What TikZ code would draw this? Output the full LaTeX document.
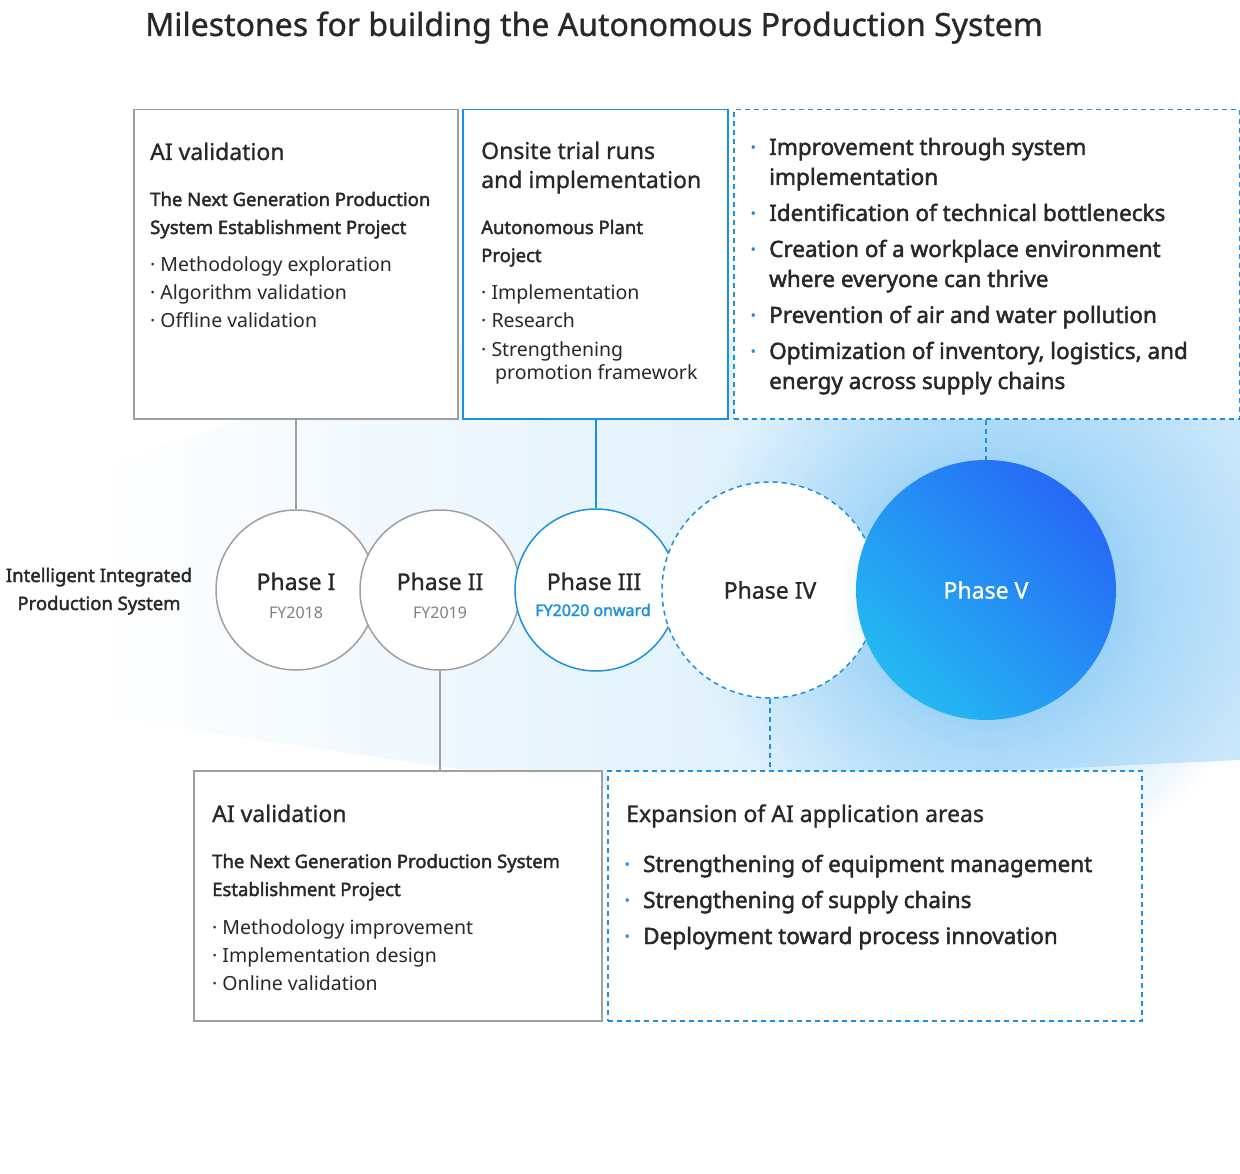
\documentclass[tikz,border=0pt]{standalone}
\usepackage{fontspec}
\setmainfont{Noto Sans}[AutoFakeBold=2]
\newfontfamily\medf{Noto Sans}[FakeBold=1]
\usetikzlibrary{fadings}
\tikzfading[name=glowfade, inner color=transparent!0, outer color=transparent!100]
\definecolor{mblue}{RGB}{30,144,225}
\definecolor{gline}{RGB}{160,160,160}
\definecolor{gtext}{RGB}{40,40,40}
\definecolor{pA}{RGB}{38,105,245}
\definecolor{pB}{RGB}{36,185,242}
\definecolor{glow}{RGB}{120,195,245}
\newcommand{\fT}{\fontsize{32}{36}\selectfont\medf}
\newcommand{\fH}{\fontsize{23}{27}\selectfont\medf}
\newcommand{\fS}{\fontsize{18.5}{22}\selectfont\bfseries}
\newcommand{\fR}{\fontsize{19.5}{22}\selectfont}
\newcommand{\fL}{\fontsize{22.5}{26}\selectfont\bfseries}
\begin{document}
\begin{tikzpicture}[x=1pt,y=-1pt,
  t/.style={anchor=base west,inner sep=0,text=gtext},
  gbox/.style={draw=gline,line width=1.5pt,fill=white},
  bbox/.style={draw=mblue,line width=1.5pt,fill=white},
  dbox/.style={draw=mblue,line width=1.5pt,dashed,dash pattern=on 5pt off 4pt,fill=white},
  ph/.style={circle,inner sep=0,align=center,text=gtext,font=\fH\bfseries},
  bl/.style={anchor=base west,inner sep=0,text=mblue,font=\fL}]
\useasboundingbox (0,0) rectangle (1240,1174);
% background glow
\shade[left color=white,right color=glow!40] (90,470) -- (460,345) -- (1240,330) -- (1240,760) -- (600,790) -- (90,715) -- cycle;
\fill[glow,path fading=glowfade] (986,590) circle (290);
% title
\node[t,font=\fT] (title) at (145,36) {Milestones for building the Autonomous Production System};
% boxes
\node[gbox,minimum width=324,minimum height=309,anchor=north west] (B1) at (133,109) {};
\node[bbox,minimum width=265,minimum height=309,anchor=north west] (B2) at (462,109) {};
\node[dbox,minimum width=506,minimum height=309,anchor=north west] (B3) at (733,109) {};
\node[gbox,minimum width=408,minimum height=250,anchor=north west] (B4) at (193,770) {};
\node[dbox,minimum width=534,minimum height=250,anchor=north west] (B5) at (607,770) {};
% circles
\node[ph,draw=gline,line width=1.5pt,fill=white,minimum size=160] (P1) at (296,590) {};
\node[ph,draw=gline,line width=1.5pt,fill=white,minimum size=160] (P2) at (440,590) {};
\node[ph,draw=mblue,line width=1.5pt,fill=white,minimum size=162] (P3) at (596,590) {};
\node[ph,draw=mblue,line width=1.5pt,dashed,dash pattern=on 5pt off 4pt,fill=white,minimum size=216] (P4) at (770,590) {Phase IV};
\fill[glow!80,path fading=glowfade] (990,598) circle (150);
\shade[left color=pA,right color=pB,shading angle=-45] (986,590) circle (130);
\node[ph,text=white,minimum size=260] (P5) at (986,590) {Phase V};
\node[t,anchor=base,font=\fH\bfseries] (p1a) at (296,590) {Phase I};
\node[t,anchor=base,font=\fontsize{16}{18}\selectfont,text=gray] (p1b) at (296,618) {FY2018};
\node[t,anchor=base,font=\fH\bfseries] (p2a) at (440,590) {Phase II};
\node[t,anchor=base,font=\fontsize{16}{18}\selectfont,text=gray] (p2b) at (440,618) {FY2019};
\node[t,anchor=base,font=\fH\bfseries] (p3a) at (594,590) {Phase III};
\node[t,anchor=base,font=\fontsize{16}{18}\selectfont\bfseries,text=mblue] (p3b) at (593,616) {FY2020 onward};
% connectors
\draw[gline,line width=1.5pt] (B1.south -| P1) -- (P1.north);
\draw[mblue,line width=1.5pt] (B2.south -| P3) -- (P3.north);
\draw[mblue,line width=1.5pt,dash pattern=on 5pt off 4pt] (B3.south -| P5) -- (P5.north);
\draw[gline,line width=1.5pt] (P2.south) -- (B4.north -| P2);
\draw[mblue,line width=1.5pt,dash pattern=on 5pt off 4pt] (P4.south) -- (B5.north -| P4);
% left label
\node[t,anchor=base,font=\fontsize{18.5}{22}\selectfont\bfseries] (ll1) at (99,582) {Intelligent Integrated};
\node[t,anchor=base,font=\fontsize{18.5}{22}\selectfont\bfseries] (ll2) at (99,610) {Production System};
% box1 text
\node[t,font=\fH] (b1t) at (150,160) {AI validation};
\node[t,font=\fS] (b1a) at (150,206) {The Next Generation Production};
\node[t,font=\fS] (b1b) at (150,234) {System Establishment Project};
\node[t,font=\fR] (b1c) at (150,272) {·\ Methodology exploration};
\node[t,font=\fR] (b1d) at (150,300) {·\ Algorithm validation};
\node[t,font=\fR] (b1e) at (150,328) {·\ Offline validation};
% box2 text
\node[t,font=\fH] (b2t) at (481,159) {Onsite trial runs};
\node[t,font=\fH] (b2u) at (481,188) {and implementation};
\node[t,font=\fS] (b2a) at (481,234) {Autonomous Plant};
\node[t,font=\fS] (b2b) at (481,262) {Project};
\node[t,font=\fR] (b2c) at (481,300) {·\ Implementation};
\node[t,font=\fR] (b2d) at (481,328) {·\ Research};
\node[t,font=\fR] (b2e) at (481,356) {·\ Strengthening};
\node[t,font=\fR] (b2f) at (495,380) {promotion framework};
% box3 text
\foreach \y/\n in {155/a,221/b,257/c,323/d,359/e} {\node[bl] (b3\n) at (750,\y) {·};}
\node[t,font=\fL] (b3t1) at (769,155) {Improvement through system};
\node[t,font=\fL] (b3t2) at (769,185) {implementation};
\node[t,font=\fL] (b3t3) at (769,221) {Identification of technical bottlenecks};
\node[t,font=\fL] (b3t4) at (769,257) {Creation of a workplace environment};
\node[t,font=\fL] (b3t5) at (769,287) {where everyone can thrive};
\node[t,font=\fL] (b3t6) at (769,323) {Prevention of air and water pollution};
\node[t,font=\fL] (b3t7) at (769,359) {Optimization of inventory, logistics, and};
\node[t,font=\fL] (b3t8) at (769,389) {energy across supply chains};
% box4 text
\node[t,font=\fH] (b4t) at (212,822) {AI validation};
\node[t,font=\fS] (b4a) at (212,868) {The Next Generation Production System};
\node[t,font=\fS] (b4b) at (212,896) {Establishment Project};
\node[t,font=\fR] (b4c) at (212,934) {·\ Methodology improvement};
\node[t,font=\fR] (b4d) at (212,962) {·\ Implementation design};
\node[t,font=\fR] (b4e) at (212,990) {·\ Online validation};
% box5 text
\node[t,font=\fH] (b5t) at (626,822) {Expansion of AI application areas};
\foreach \y/\n in {872/a,908/b,944/c} {\node[bl] (b5\n) at (624,\y) {·};}
\node[t,font=\fL] (b5t1) at (643,872) {Strengthening of equipment management};
\node[t,font=\fL] (b5t2) at (643,908) {Strengthening of supply chains};
\node[t,font=\fL] (b5t3) at (643,944) {Deployment toward process innovation};
\end{tikzpicture}
\end{document}
